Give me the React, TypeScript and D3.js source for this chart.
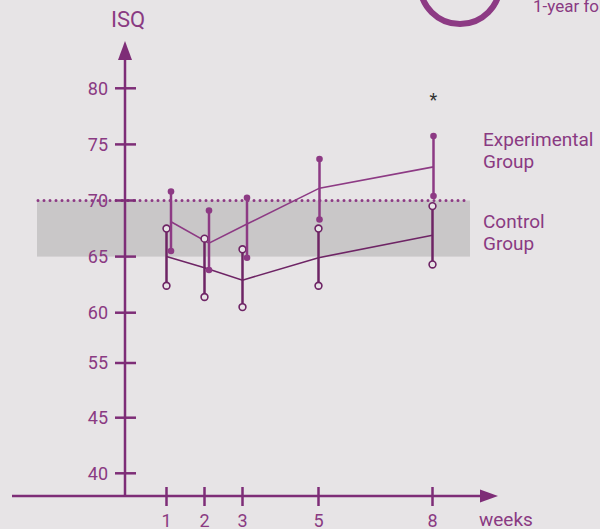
import React from "react";
import * as d3 from "d3";

const weeks = [1, 2, 3, 5, 8];
const expMean = [68.1, 66.2, 67.9, 71.1, 73.0];
const expHigh = [70.8, 69.1, 70.25, 73.7, 75.75];
const expLow = [65.5, 63.8, 64.9, 68.3, 70.4];
const ctrlMean = [65.0, 64.0, 62.9, 64.9, 66.9];
const ctrlHigh = [67.5, 66.6, 65.65, 67.5, 69.5];
const ctrlLow = [62.4, 61.4, 60.5, 62.4, 64.3];
const yTicks = [40, 45, 55, 60, 65, 70, 75, 80];
const xTicks = [1, 2, 3, 5, 8];
const bandLow = 65;
const bandHigh = 70;

const BG = "#e7e4e6";
const AXIS = "#7e2d77";
const EXP = "#8d3a84";
const CTRL = "#6e2465";
const TEXT = "#8a3a82";
const FONT = "Roboto, 'Open Sans', sans-serif";

export default function App() {
  const y = d3
    .scaleLinear()
    .domain([40, 45, 55, 60, 80])
    .range([473.3, 417.7, 363, 312.7, 88.3]);
  const x = d3.scaleLinear().domain([1, 8]).range([166.5, 432.5]);
  const axisX = 125;
  const axisY = 496;
  const expX = (w: number) => x(w) + (w <= 3 ? 4.5 : 1);
  const ctrlX = (w: number) => x(w);

  const expLine = d3
    .line<number>()
    .x((_, i) => expX(weeks[i]))
    .y((d) => y(d));
  const ctrlLine = d3
    .line<number>()
    .x((_, i) => ctrlX(weeks[i]))
    .y((d) => y(d));

  return (
    <svg
      width={600}
      height={529}
      style={{ position: "absolute", left: 0, top: 0 }}
      fontFamily={FONT}
    >
      <rect x={0} y={0} width={600} height={529} fill={BG} />
      {/* top-right partial decoration */}
      <circle cx={460} cy={-16} r={40} fill="none" stroke={EXP} strokeWidth={6} />
      <text x={533} y={12} fontSize={17} fill={TEXT}>
        1-year follow-up
      </text>

      {/* reference band */}
      <rect
        x={37}
        y={y(bandHigh)}
        width={470 - 37}
        height={y(bandLow) - y(bandHigh)}
        fill="#c9c7c8"
      />
      <line
        x1={38}
        x2={470}
        y1={y(bandHigh)}
        y2={y(bandHigh)}
        stroke={EXP}
        strokeWidth={3}
        strokeDasharray="0 6"
        strokeLinecap="round"
      />

      {/* y axis */}
      <line x1={axisX} x2={axisX} y1={axisY} y2={58} stroke={AXIS} strokeWidth={2.5} />
      <path d={`M${axisX - 7},${60} L${axisX},${41} L${axisX + 7},${60} Z`} fill={AXIS} />
      <text x={128} y={27} fontSize={22} fill={TEXT} textAnchor="middle">
        ISQ
      </text>
      {yTicks.map((t) => (
        <g key={t}>
          <line x1={115} x2={136} y1={y(t)} y2={y(t)} stroke={AXIS} strokeWidth={2.5} />
          <text
            x={108}
            y={y(t)}
            dy="0.36em"
            fontSize={18}
            fill={TEXT}
            textAnchor="end"
          >
            {t}
          </text>
        </g>
      ))}

      {/* x axis */}
      <line x1={12} x2={482} y1={axisY} y2={axisY} stroke={AXIS} strokeWidth={2.5} />
      <path d={`M480,${axisY - 6.5} L498,${axisY} L480,${axisY + 6.5} Z`} fill={AXIS} />
      {xTicks.map((t) => (
        <g key={t}>
          <line x1={x(t)} x2={x(t)} y1={487} y2={506} stroke={AXIS} strokeWidth={2.5} />
          <text x={x(t)} y={527} fontSize={18} fill={TEXT} textAnchor="middle">
            {t}
          </text>
        </g>
      ))}
      <text x={479} y={526} fontSize={19} fill={TEXT}>
        weeks
      </text>

      {/* mean lines */}
      <path d={expLine(expMean) || ""} fill="none" stroke={EXP} strokeWidth={1.6} />
      <path d={ctrlLine(ctrlMean) || ""} fill="none" stroke={CTRL} strokeWidth={1.6} />

      {/* control error bars */}
      {weeks.map((w, i) => (
        <g key={"c" + w}>
          <line
            x1={ctrlX(w)}
            x2={ctrlX(w)}
            y1={y(ctrlHigh[i])}
            y2={y(ctrlLow[i])}
            stroke={CTRL}
            strokeWidth={2.5}
          />
          <circle cx={ctrlX(w)} cy={y(ctrlHigh[i])} r={3.4} fill={BG} stroke={CTRL} strokeWidth={1.6} />
          <circle cx={ctrlX(w)} cy={y(ctrlLow[i])} r={3.4} fill={BG} stroke={CTRL} strokeWidth={1.6} />
        </g>
      ))}
      {/* experimental error bars */}
      {weeks.map((w, i) => (
        <g key={"e" + w}>
          <line
            x1={expX(w)}
            x2={expX(w)}
            y1={y(expHigh[i])}
            y2={y(expLow[i])}
            stroke={EXP}
            strokeWidth={2.5}
          />
          <circle cx={expX(w)} cy={y(expHigh[i])} r={3.3} fill={EXP} />
          <circle cx={expX(w)} cy={y(expLow[i])} r={3.3} fill={EXP} />
        </g>
      ))}

      <text x={expX(8)} y={106} fontSize={18} fill="#333" textAnchor="middle">
        *
      </text>

      {/* legend labels */}
      <text x={483} y={146} fontSize={19} fill={TEXT}>
        Experimental
      </text>
      <text x={483} y={168} fontSize={19} fill={TEXT}>
        Group
      </text>
      <text x={483} y={228} fontSize={19} fill={TEXT}>
        Control
      </text>
      <text x={483} y={250} fontSize={19} fill={TEXT}>
        Group
      </text>
    </svg>
  );
}
